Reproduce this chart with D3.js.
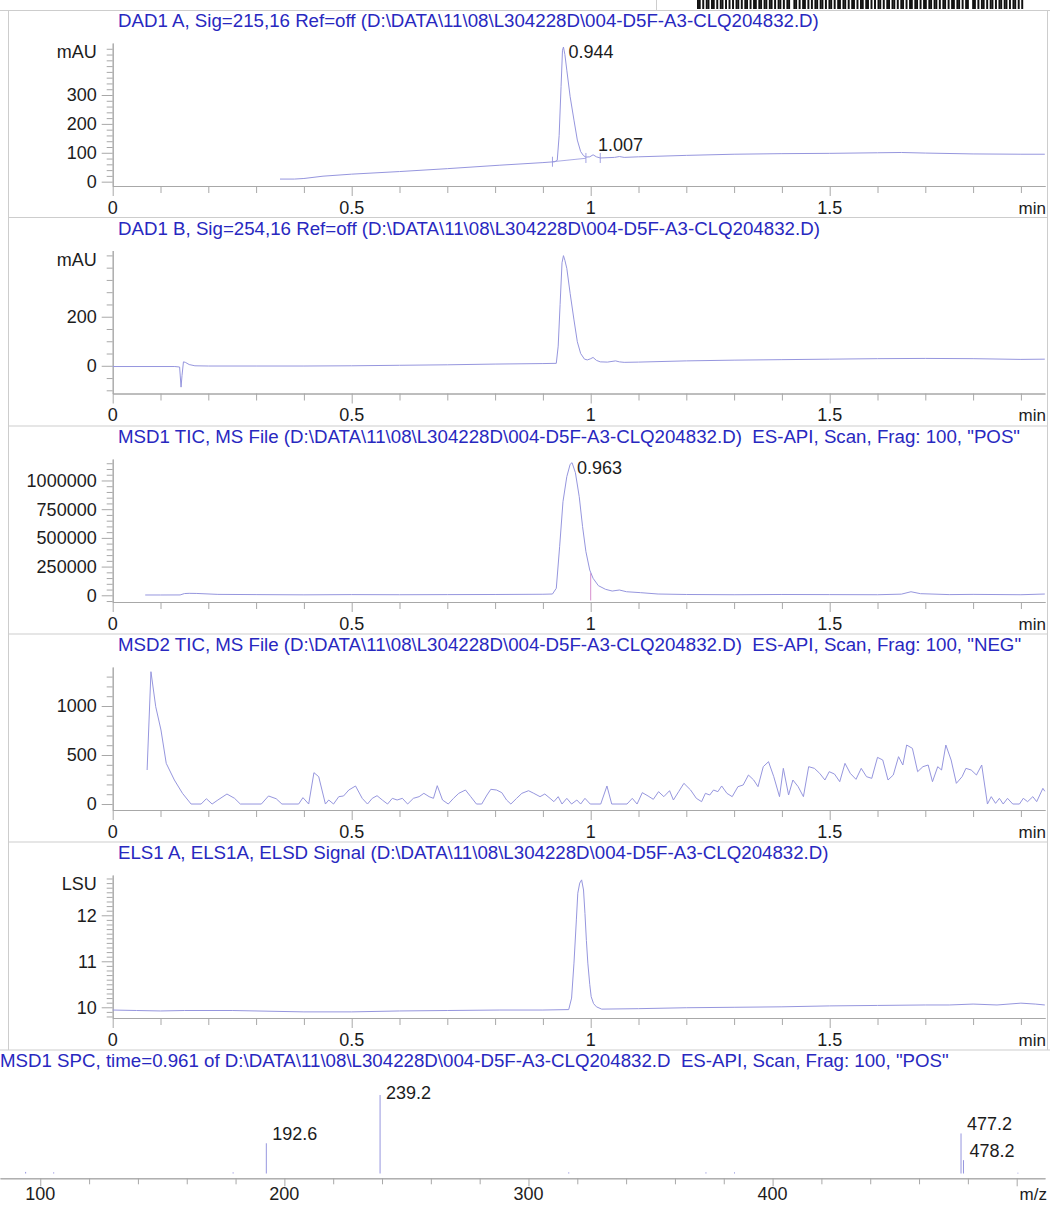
<!DOCTYPE html>
<html><head><meta charset="utf-8">
<script src="https://cdn.jsdelivr.net/npm/d3@7"></script>
<style>
body{margin:0;background:#fff}
svg{display:block}
text{font-family:"Liberation Sans",Arial,Helvetica,sans-serif}
</style>
</head><body>
<svg id="c" width="1050" height="1207"></svg>
<script>
// ---------------- DATA ----------------
const panelTitles = [
  "DAD1 A, Sig=215,16 Ref=off (D:\\DATA\\11\\08\\L304228D\\004-D5F-A3-CLQ204832.D)",
  "DAD1 B, Sig=254,16 Ref=off (D:\\DATA\\11\\08\\L304228D\\004-D5F-A3-CLQ204832.D)",
  "MSD1 TIC, MS File (D:\\DATA\\11\\08\\L304228D\\004-D5F-A3-CLQ204832.D)  ES-API, Scan, Frag: 100, \"POS\"",
  "MSD2 TIC, MS File (D:\\DATA\\11\\08\\L304228D\\004-D5F-A3-CLQ204832.D)  ES-API, Scan, Frag: 100, \"NEG\"",
  "ELS1 A, ELS1A, ELSD Signal (D:\\DATA\\11\\08\\L304228D\\004-D5F-A3-CLQ204832.D)"
];
const spectrumTitle = "MSD1 SPC, time=0.961 of D:\\DATA\\11\\08\\L304228D\\004-D5F-A3-CLQ204832.D  ES-API, Scan, Frag: 100, \"POS\"";
const unitLabels = ["mAU", "mAU", "", "", "LSU"];

const timeTicks = [0, 0.5, 1, 1.5];
const timeTickLabels = ["0", "0.5", "1", "1.5"];

const dad1aTicks = [0, 100, 200, 300];
const dad1bTicks = [0, 200];
const msd1Ticks = [0, 250000, 500000, 750000, 1000000];
const msd2Ticks = [0, 500, 1000];
const elsdTicks = [10, 11, 12];

// [time (min), signal]
const dad1aPoints = [[0.350,9],[0.380,9],[0.400,11],[0.440,19],[0.500,26],[0.600,35],[0.700,45],[0.810,57],[0.900,66],
  [0.925,69],[0.930,74],[0.934,160],[0.938,330],[0.941,455],[0.943,466],[0.946,440],[0.950,386],[0.957,294],[0.965,213],
  [0.972,144],[0.979,104],[0.985,90],[0.990,85],[0.998,86],[1.005,93],[1.012,86],[1.020,82],[1.050,84],[1.060,87],[1.070,84],
  [1.100,86],[1.200,91],[1.300,95],[1.400,97],[1.500,98],[1.600,100],[1.650,101],[1.700,99],[1.800,96],[1.900,95],[1.950,95]];
const dad1aIntegrationMarks = [[0.920,69],[0.990,82],[1.020,82]];
const dad1aBaseline = [[0.920,69],[0.990,81]];
const dad1aPeakLabels = [[0.943,466,"0.944"],[1.005,93,"1.007"]];

const dad1bPoints = [[0.000,-3],[0.130,-3],[0.140,-5],[0.143,-87],[0.145,-40],[0.148,16],[0.152,14],[0.160,5],[0.172,0],
  [0.200,-1],[0.300,-1],[0.400,-1],[0.500,0],[0.600,2],[0.700,4],[0.800,7],[0.900,9],[0.928,10],[0.932,80],[0.936,250],
  [0.940,420],[0.943,449],[0.946,430],[0.950,397],[0.957,295],[0.965,187],[0.972,98],[0.979,50],[0.987,27],[0.993,24],
  [0.999,28],[1.005,34],[1.012,22],[1.020,16],[1.035,15],[1.052,20],[1.060,16],[1.070,14],[1.100,15],[1.200,20],[1.300,23],
  [1.400,25],[1.500,27],[1.600,29],[1.700,30],[1.800,29],[1.900,26],[1.950,27]];

const msd1Points = [[0.068,2600],[0.100,2600],[0.141,3000],[0.150,15000],[0.160,17000],[0.176,16000],[0.220,8000],[0.300,6000],
  [0.400,4000],[0.500,6000],[0.600,5000],[0.700,6000],[0.800,7000],[0.900,9000],[0.920,11000],[0.928,61000],[0.935,423000],
  [0.942,815000],[0.950,1033000],[0.957,1141000],[0.961,1155000],[0.968,1068000],[0.976,859000],[0.983,598000],[0.990,380000],
  [0.998,220000],[1.005,148000],[1.016,84000],[1.031,52000],[1.045,37000],[1.060,46000],[1.075,31000],[1.104,23000],
  [1.141,11000],[1.200,7000],[1.300,5000],[1.400,7000],[1.500,6000],[1.600,5000],[1.650,10000],[1.670,31000],[1.690,14000],
  [1.750,6000],[1.800,8000],[1.900,5000],[1.950,11000]];
const msd1Marks = [[1.000,192000,-45000]];
const msd1PeakLabels = [[0.961,1155000,"0.963"]];

const msd2Points = [[0.072,347],[0.080,1350],[0.090,993],[0.101,755],[0.112,415],[0.129,245],[0.146,109],[0.164,0],[0.185,0],
  [0.196,54],[0.208,0],[0.220,41],[0.239,102],[0.255,58],[0.267,0],[0.311,0],[0.326,82],[0.342,54],[0.354,0],[0.389,0],
  [0.398,65],[0.410,0],[0.421,320],[0.431,279],[0.445,0],[0.452,41],[0.462,0],[0.473,75],[0.483,82],[0.494,143],[0.508,184],
  [0.522,58],[0.533,0],[0.543,58],[0.553,85],[0.564,41],[0.575,0],[0.585,58],[0.595,41],[0.606,58],[0.617,0],[0.629,58],
  [0.641,75],[0.651,109],[0.662,75],[0.671,58],[0.679,187],[0.690,41],[0.702,0],[0.713,58],[0.724,109],[0.738,143],[0.749,75],
  [0.761,0],[0.772,0],[0.783,92],[0.791,150],[0.803,143],[0.814,116],[0.824,41],[0.833,0],[0.845,58],[0.856,109],[0.870,136],
  [0.881,109],[0.894,75],[0.904,102],[0.915,58],[0.923,24],[0.932,75],[0.940,0],[0.950,58],[0.960,0],[0.971,41],[0.979,0],
  [0.988,58],[0.999,0],[1.021,0],[1.034,184],[1.044,0],[1.076,0],[1.087,58],[1.097,0],[1.108,116],[1.120,82],[1.131,48],
  [1.142,126],[1.153,75],[1.165,136],[1.173,41],[1.184,126],[1.195,211],[1.209,143],[1.221,58],[1.232,24],[1.240,109],
  [1.249,92],[1.257,143],[1.266,126],[1.274,184],[1.285,109],[1.296,75],[1.308,177],[1.319,194],[1.330,296],[1.341,245],
  [1.350,177],[1.361,381],[1.372,432],[1.383,279],[1.395,75],[1.403,364],[1.414,92],[1.423,245],[1.434,177],[1.445,75],
  [1.456,381],[1.468,364],[1.479,313],[1.490,245],[1.499,330],[1.510,306],[1.521,228],[1.532,415],[1.543,313],[1.555,252],
  [1.566,364],[1.577,279],[1.588,262],[1.600,476],[1.611,449],[1.622,245],[1.633,296],[1.644,483],[1.653,398],[1.661,602],
  [1.673,568],[1.684,330],[1.695,381],[1.706,398],[1.715,228],[1.726,381],[1.734,347],[1.743,602],[1.754,449],[1.765,211],
  [1.777,279],[1.785,364],[1.796,347],[1.807,296],[1.818,398],[1.830,0],[1.838,75],[1.847,7],[1.855,58],[1.863,0],[1.872,58],
  [1.883,0],[1.897,0],[1.905,58],[1.914,24],[1.925,75],[1.933,24],[1.946,160],[1.950,130]];

const elsdPoints = [[0.000,9.94],[0.050,9.93],[0.100,9.92],[0.150,9.93],[0.250,9.93],[0.350,9.91],[0.400,9.90],[0.500,9.90],
  [0.600,9.92],[0.700,9.93],[0.810,9.94],[0.900,9.94],[0.954,9.95],[0.960,10.20],[0.965,10.96],[0.970,11.90],[0.973,12.48],
  [0.977,12.70],[0.981,12.77],[0.985,12.55],[0.988,12.04],[0.991,11.45],[0.994,10.96],[0.998,10.50],[1.001,10.23],
  [1.006,10.08],[1.012,10.01],[1.023,9.96],[1.100,9.97],[1.200,9.99],[1.300,10.00],[1.400,10.01],[1.500,10.03],[1.600,10.04],
  [1.700,10.05],[1.750,10.05],[1.800,10.07],[1.850,10.05],[1.900,10.09],[1.930,10.07],[1.950,10.05]];

// Mass spectrum [m/z, relative abundance %]
const spectrumPeaks = [[94.0,2],[105.5,1.5],[179.0,1.5],[192.6,38.5],[239.2,100],[316.5,1.5],[372.7,1.5],[384.4,1.5],
  [477.2,51],[478.2,17],[500.5,1]];
const spectrumLabels = [[192.6,38.5,"192.6"],[239.2,100,"239.2"],[477.2,51,"477.2"],[478.2,17,"478.2"]];
const mzTicks = [100, 200, 300, 400];
const mzTickLabels = ["100", "200", "300", "400"];

// barcode modules (1 = bar, 0 = space, space char = group gap)
const barcodePattern = "1101011011010110101 10110101101011011 1101101011010110 11010110101 110110101101011011 1011010110110101 110101101101011 10110110101101101101 1101011011010110 110101101011 1011011010110101";

// ---------------- STYLE / LAYOUT ----------------
const titleColor = "#2828bf", textColor = "#1c1c1c", traceColor = "#9696de";
const axisColor = "#a8a8a8", borderColor = "#cdcdcd", markColor = "#cc70c0";
const TITLE_SIZE = 18.7, LABEL_SIZE = 18;
const panelTops = [10, 217.5, 426, 634, 842];
const X0 = 112.7, X1 = 1045;
const svg = d3.select("#c");
const x = d3.scaleLinear().domain([0, (X1 - X0) / 478]).range([X0, X1]);

// frame
svg.append("line").attr("x1",0).attr("x2",1050).attr("y1",10.5).attr("y2",10.5).attr("stroke",borderColor);
svg.append("line").attr("x1",656.5).attr("x2",656.5).attr("y1",0).attr("y2",10.5).attr("stroke",borderColor);
svg.append("line").attr("x1",8.5).attr("x2",8.5).attr("y1",10.5).attr("y2",1050).attr("stroke",borderColor);
svg.append("line").attr("x1",1047.5).attr("x2",1047.5).attr("y1",10.5).attr("y2",1050).attr("stroke",borderColor);
[217.5, 426, 634, 842].forEach(yy => svg.append("line").attr("x1",8.5).attr("x2",1047.5).attr("y1",yy).attr("y2",yy).attr("stroke",borderColor));
svg.append("line").attr("x1",0).attr("x2",1050).attr("y1",1050).attr("y2",1050).attr("stroke",borderColor);

// barcode
{
  const mods = barcodePattern.split("");
  const bx = d3.scaleLinear().domain([0, mods.length]).range([697, 1023]);
  svg.append("g").selectAll("rect").data(mods.map((c,i)=>({c,i})).filter(d=>d.c==="1")).join("rect")
    .attr("x", d => bx(d.i)).attr("width", d => bx(d.i+1)-bx(d.i)+0.2).attr("y", 0).attr("height", 9).attr("fill", "#111");
}

function styleAxis(g){
  g.selectAll(".domain").attr("stroke", axisColor);
  g.selectAll(".tick line").attr("stroke", axisColor);
  g.selectAll(".tick text").remove();
}

function chromPanel(i, yDomain, yMajor, yMinorStep, points, opts){
  const top = panelTops[i];
  const y = d3.scaleLinear().domain(yDomain).range([top + 176, top + 33]);
  const g = svg.append("g");
  g.append("text").attr("x", 118).attr("y", top + 17).attr("fill", titleColor)
    .style("font-size", TITLE_SIZE + "px").style("white-space", "pre").text(panelTitles[i]);
  if (unitLabels[i]) g.append("text").attr("x", 96.7).attr("y", top + 48.4).attr("text-anchor", "end")
    .attr("fill", textColor).style("font-size", LABEL_SIZE + "px").text(unitLabels[i]);

  const minor = d3.range(Math.ceil(yDomain[0] / yMinorStep) * yMinorStep, yDomain[1], yMinorStep)
    .filter(v => !yMajor.some(m => Math.abs(m - v) < 1e-9));
  const gyMinor = g.append("g").attr("transform", `translate(${X0},0)`)
    .call(d3.axisLeft(y).tickValues(minor).tickSize(6).tickSizeOuter(0));
  styleAxis(gyMinor);
  const gy = g.append("g").attr("transform", `translate(${X0},0)`)
    .call(d3.axisLeft(y).tickValues(yMajor).tickSize(11).tickSizeOuter(0));
  styleAxis(gy);
  g.selectAll("text.yl").data(yMajor).join("text").attr("class", "yl")
    .attr("x", 96.7).attr("y", d => y(d) + 6.4).attr("text-anchor", "end")
    .attr("fill", textColor).style("font-size", LABEL_SIZE + "px").text(d3.format("d"));

  const xMinor = d3.range(1, 20).map(k => k / 10).filter(v => !timeTicks.some(m => Math.abs(m - v) < 1e-9));
  const gxMinor = g.append("g").attr("transform", `translate(0,${top + 176})`)
    .call(d3.axisBottom(x).tickValues(xMinor).tickSize(7).tickSizeOuter(0));
  styleAxis(gxMinor);
  const gx = g.append("g").attr("transform", `translate(0,${top + 176})`)
    .call(d3.axisBottom(x).tickValues(timeTicks).tickSize(10).tickSizeOuter(0));
  styleAxis(gx);
  g.selectAll("text.xl").data(timeTicks).join("text").attr("class", "xl")
    .attr("x", d => x(d)).attr("y", top + 176 + 27.5).attr("text-anchor", "middle")
    .attr("fill", textColor).style("font-size", LABEL_SIZE + "px").text((d, k) => timeTickLabels[k]);
  g.append("text").attr("x", 1046).attr("y", top + 176 + 27.5).attr("text-anchor", "end")
    .attr("fill", textColor).style("font-size", "17px").text("min");

  if (opts && opts.baseline) {
    g.append("path").datum(opts.baseline).attr("fill", "none").attr("stroke", traceColor).attr("stroke-width", 0.8)
      .attr("d", d3.line().x(d => x(d[0])).y(d => y(d[1])));
  }
  if (opts && opts.intMarks) {
    g.selectAll("line.im").data(opts.intMarks).join("line").attr("class", "im")
      .attr("x1", d => x(d[0])).attr("x2", d => x(d[0]))
      .attr("y1", d => y(d[1]) - 5).attr("y2", d => y(d[1]) + 5)
      .attr("stroke", traceColor).attr("stroke-width", 0.9);
  }
  g.append("path").datum(points).attr("fill", "none").attr("stroke", traceColor).attr("stroke-width", 1)
    .attr("stroke-linejoin", "round")
    .attr("d", d3.line().x(d => x(d[0])).y(d => y(d[1])));
  if (opts && opts.marks) {
    g.selectAll("line.mk").data(opts.marks).join("line").attr("class", "mk")
      .attr("x1", d => x(d[0])).attr("x2", d => x(d[0]))
      .attr("y1", d => y(d[1])).attr("y2", d => y(d[2]))
      .attr("stroke", markColor).attr("stroke-width", 0.8);
  }
  if (opts && opts.labels) {
    g.selectAll("text.pk").data(opts.labels).join("text").attr("class", "pk")
      .attr("x", d => x(d[0]) + 5)
      .attr("y", d => Math.max(y(d[1]) - 10, top + 42) + 6.4)
      .attr("fill", textColor).style("font-size", LABEL_SIZE + "px").text(d => d[2]);
  }
}

chromPanel(0, [-15, 480], dad1aTicks, 20, dad1aPoints,
  {baseline: dad1aBaseline, intMarks: dad1aIntegrationMarks, labels: dad1aPeakLabels});
chromPanel(1, [-113, 470], dad1bTicks, 50, dad1bPoints, {});
chromPanel(2, [-58400, 1187000], msd1Ticks, 50000, msd1Points, {marks: msd1Marks, labels: msd1PeakLabels});
chromPanel(3, [-61, 1398], msd2Ticks, 100, msd2Points, {});
chromPanel(4, [9.767, 12.876], elsdTicks, 0.1, elsdPoints, {});

// ---------------- SPECTRUM ----------------
{
  const g = svg.append("g");
  g.append("text").attr("x", 0).attr("y", 1067).attr("fill", titleColor)
    .style("font-size", TITLE_SIZE + "px").style("white-space", "pre").text(spectrumTitle);
  const mx = d3.scaleLinear().domain([83.5, 511.6]).range([0, 1045]);
  const my = d3.scaleLinear().domain([0, 100]).range([1173.5, 1095]);
  const axisY = 1178.3;
  const minor = d3.range(100, 512, 20).filter(v => v % 100 !== 0);
  const gm = g.append("g").attr("transform", `translate(0,${axisY})`)
    .call(d3.axisBottom(mx).tickValues(minor).tickSize(6).tickSizeOuter(0));
  styleAxis(gm);
  const gM = g.append("g").attr("transform", `translate(0,${axisY})`)
    .call(d3.axisBottom(mx).tickValues(mzTicks.concat([500])).tickSize(8).tickSizeOuter(0));
  styleAxis(gM);
  g.selectAll("text.ml").data(mzTicks).join("text").attr("class", "ml")
    .attr("x", d => mx(d)).attr("y", 1199.6).attr("text-anchor", "middle")
    .attr("fill", textColor).style("font-size", LABEL_SIZE + "px").text((d, k) => mzTickLabels[k]);
  g.append("text").attr("x", 1047).attr("y", 1199.6).attr("text-anchor", "end")
    .attr("fill", textColor).style("font-size", "17px").text("m/z");
  g.selectAll("line.sp").data(spectrumPeaks).join("line").attr("class", "sp")
    .attr("x1", d => mx(d[0])).attr("x2", d => mx(d[0]))
    .attr("y1", my(0)).attr("y2", d => my(d[1]))
    .attr("stroke", traceColor).attr("stroke-width", 1);
  g.selectAll("text.sl").data(spectrumLabels).join("text").attr("class", "sl")
    .attr("x", d => mx(d[0]) + 6)
    .attr("y", d => Math.max(my(d[1]) - 10, 1093) + 6.4)
    .attr("fill", textColor).style("font-size", LABEL_SIZE + "px").text(d => d[2]);
}
</script>
</body></html>
